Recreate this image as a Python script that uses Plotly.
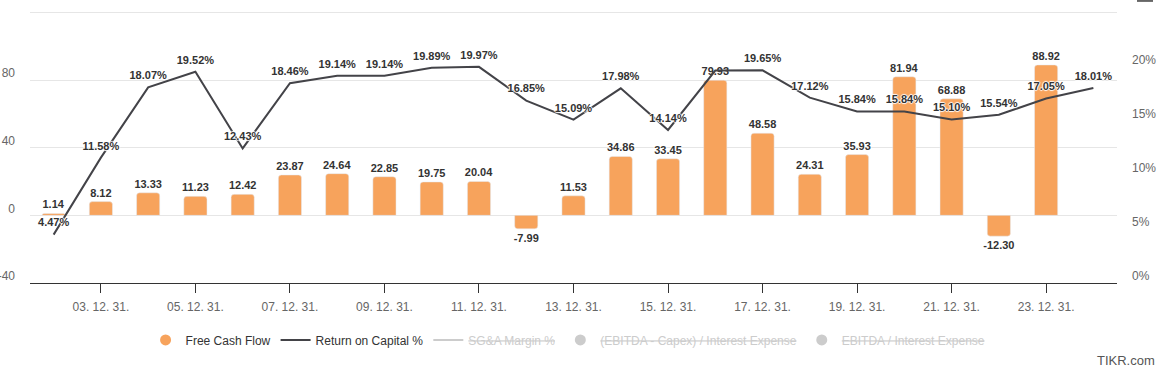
import plotly.graph_objects as go

years = list(range(2002, 2025))
fcf_years = list(range(2002, 2024))
fcf = [1.14, 8.12, 13.33, 11.23, 12.42, 23.87, 24.64, 22.85, 19.75, 20.04, -7.99,
       11.53, 34.86, 33.45, 79.93, 48.58, 24.31, 35.93, 81.94, 68.88, -12.30, 88.92]
roc = [4.47, 11.58, 18.07, 19.52, 12.43, 18.46, 19.14, 19.14, 19.89, 19.97, 16.85,
       15.09, 17.98, 14.14, 19.62, 19.65, 17.12, 15.84, 15.84, 15.10, 15.54, 17.05, 18.01]
roc_hidden_label = [2016]
tick_years = list(range(2003, 2024, 2))
tick_labels = [f"{y % 100:02d}. 12. 31." for y in tick_years]
left_ticks = [-40, 0, 40, 80, 120]
left_labels = ["-40", "0", "40", "80", ""]
right_ticks = [0, 5, 10, 15, 20]
right_labels = [f"{v}%" for v in right_ticks]

FONT = "Liberation Sans, Arial, sans-serif"
ORANGE = "#F7A35C"
DARK = "#434348"
outline = "1px 0px 1px #fff, -1px 0px 1px #fff, 0px 1px 1px #fff, 0px -1px 1px #fff"

# plot-area geometry (pixels)
W, Hfig = 1163, 374
L, R, B = 30, 1117, 283
T = 8.6
PH = B - T

fig = go.Figure()

fig.add_trace(go.Bar(
    x=fcf_years, y=fcf, name="Free Cash Flow", marker=dict(color=ORANGE, cornerradius=3),
    width=0.49, text=[f"{v:.2f}" for v in fcf], textposition="outside",
    textfont=dict(family=FONT, size=11, color="#333", weight="bold", shadow=outline),
    constraintext="none", cliponaxis=False, showlegend=False, yaxis="y", hoverinfo="skip"))

fig.add_trace(go.Scatter(
    x=years, y=roc, name="Return on Capital %", mode="lines+markers+text",
    line=dict(color=DARK, width=2), marker=dict(size=7, opacity=0),
    text=["" if y in roc_hidden_label else f"{v:.2f}%" for y, v in zip(years, roc)],
    textposition="top center",
    textfont=dict(family=FONT, size=11, color="#333", weight="bold", shadow=outline),
    cliponaxis=False, showlegend=False, yaxis="y2", hoverinfo="skip"))

# legend entries
fig.add_trace(go.Scatter(x=[None], y=[None], mode="markers", name="Free Cash Flow",
                         marker=dict(color=ORANGE, size=11, symbol="circle")))
fig.add_trace(go.Scatter(x=[None], y=[None], mode="lines", name="Return on Capital %",
                         line=dict(color=DARK, width=2)))
fig.add_trace(go.Scatter(x=[None], y=[None], mode="lines",
                         name="<span style='color:#cccccc'><s>SG&A Margin %</s></span>",
                         line=dict(color="#cccccc", width=2)))
fig.add_trace(go.Scatter(x=[None], y=[None], mode="markers",
                         name="<span style='color:#cccccc'><s>(EBITDA - Capex) / Interest Expense</s></span>",
                         marker=dict(color="#cccccc", size=11)))
fig.add_trace(go.Scatter(x=[None], y=[None], mode="markers",
                         name="<span style='color:#cccccc'><s>EBITDA / Interest Expense</s></span>",
                         marker=dict(color="#cccccc", size=11)))


def px(x):
    return (x - L) / (R - L)


def py(y):
    return (B - y) / PH


fig.update_layout(
    width=W, height=Hfig,
    margin=dict(l=L, r=W - R, t=T, b=Hfig - B, autoexpand=False),
    paper_bgcolor="white", plot_bgcolor="white",
    font=dict(family=FONT, size=12, color="#666"),
    xaxis=dict(range=[2001.5, 2024.5], tickvals=tick_years, ticktext=tick_labels,
               showgrid=False, showline=True, linecolor="#333", linewidth=1,
               ticks="outside", ticklen=9, tickcolor="#333", tickwidth=1,
               tickfont=dict(size=12, color="#666"), ticklabelstandoff=4, zeroline=False,
               automargin=False),
    yaxis=dict(range=[-40, 122], tickvals=left_ticks, ticktext=left_labels,
               showgrid=True, gridcolor="#e6e6e6", gridwidth=1, zeroline=False,
               tickfont=dict(size=12, color="#666"), ticklabelstandoff=14,
               ticklabelshift=-7, automargin=False),
    yaxis2=dict(range=[0, 25.3125], tickvals=right_ticks, ticktext=right_labels,
                overlaying="y", side="right", showgrid=False, zeroline=False,
                tickfont=dict(size=12, color="#666"), ticklabelstandoff=14,
                ticklabelshift=-7, automargin=False),
    legend=dict(orientation="h", x=0.495, xanchor="center", y=py(340), yanchor="middle",
                font=dict(size=12, color="#333"), itemclick=False, itemdoubleclick=False),
    annotations=[dict(text="TIKR.com", xref="paper", yref="paper",
                      x=px(1157), y=py(361), xanchor="right",
                      yanchor="middle", showarrow=False,
                      font=dict(size=13, color="#555"))],
    shapes=[dict(type="line", xref="paper", yref="paper",
                 x0=px(1137), x1=px(1153), y0=py(0.5), y1=py(0.5),
                 line=dict(color="#666", width=2))],
)

fig.write_html("out.html", config={"displayModeBar": False},
               post_script="document.body.style.margin='0';")
